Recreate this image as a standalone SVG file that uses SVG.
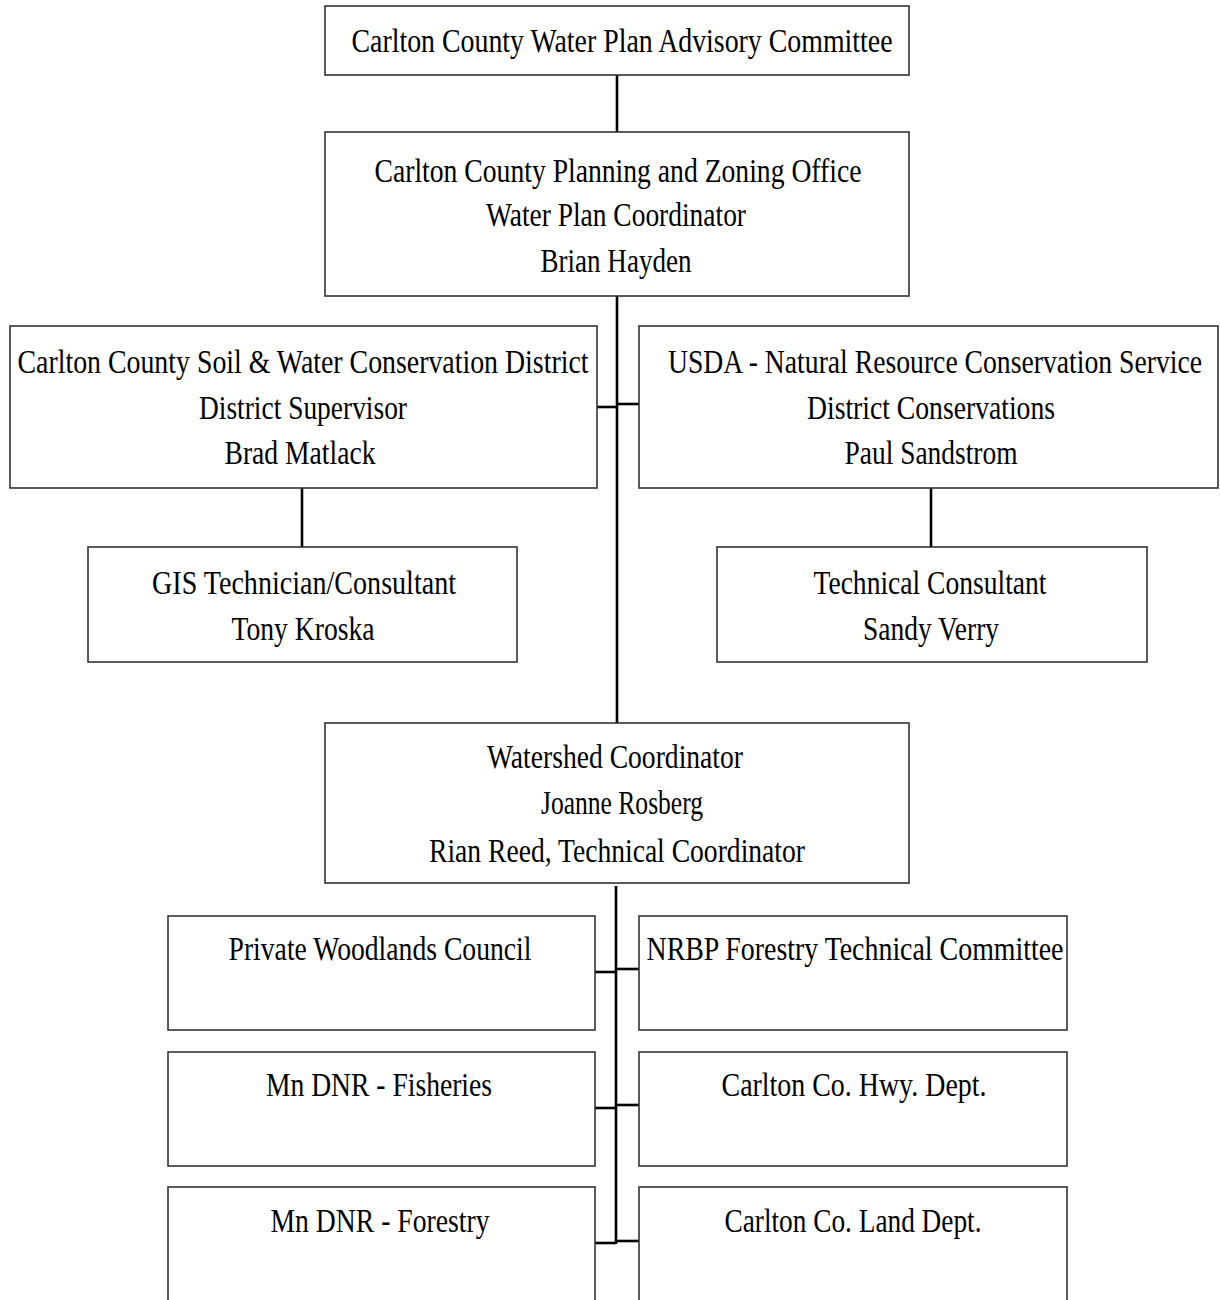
<svg xmlns="http://www.w3.org/2000/svg" width="1220" height="1300" viewBox="0 0 1220 1300">
<style>
rect.box{fill:#fff;stroke:#333;stroke-width:1.6}
.c{stroke:#000;stroke-width:2.6;fill:none}
text{font-family:"Liberation Serif","Times New Roman",serif;font-size:33px;fill:#000;text-anchor:middle}
</style>
<rect width="1220" height="1300" fill="#fff"/>
<g id="connectors">
<line class="c" x1="617" y1="75" x2="617" y2="132"/>
<line class="c" x1="617" y1="296" x2="617" y2="723"/>
<line class="c" x1="597" y1="407" x2="617" y2="407"/>
<line class="c" x1="617" y1="404" x2="639" y2="404"/>
<line class="c" x1="302" y1="488" x2="302" y2="547"/>
<line class="c" x1="931" y1="488" x2="931" y2="547"/>
<line class="c" x1="616" y1="886" x2="616" y2="1244"/>
<line class="c" x1="595" y1="972" x2="616" y2="972"/>
<line class="c" x1="616" y1="969" x2="639" y2="969"/>
<line class="c" x1="595" y1="1108" x2="616" y2="1108"/>
<line class="c" x1="616" y1="1105" x2="639" y2="1105"/>
<line class="c" x1="595" y1="1243" x2="616" y2="1243"/>
<line class="c" x1="616" y1="1241" x2="639" y2="1241"/>
</g>
<g id="advisory">
<rect class="box" x="325" y="6" width="584" height="69"/>
<text x="622" y="52" textLength="541" lengthAdjust="spacingAndGlyphs">Carlton County Water Plan Advisory Committee</text>
</g>
<g id="planning">
<rect class="box" x="325" y="132" width="584" height="164"/>
<text x="618" y="182" textLength="487" lengthAdjust="spacingAndGlyphs">Carlton County Planning and Zoning Office</text>
<text x="616" y="226" textLength="260" lengthAdjust="spacingAndGlyphs">Water Plan Coordinator</text>
<text x="616" y="272" textLength="151" lengthAdjust="spacingAndGlyphs">Brian Hayden</text>
</g>
<g id="swcd">
<rect class="box" x="10" y="326" width="587" height="162"/>
<text x="303" y="373" textLength="571" lengthAdjust="spacingAndGlyphs">Carlton County Soil &amp; Water Conservation District</text>
<text x="303" y="419" textLength="208" lengthAdjust="spacingAndGlyphs">District Supervisor</text>
<text x="300" y="464" textLength="151" lengthAdjust="spacingAndGlyphs">Brad Matlack</text>
</g>
<g id="usda">
<rect class="box" x="639" y="326" width="579" height="162"/>
<text x="935" y="373" textLength="534" lengthAdjust="spacingAndGlyphs">USDA - Natural Resource Conservation Service</text>
<text x="931" y="419" textLength="248" lengthAdjust="spacingAndGlyphs">District Conservations</text>
<text x="931" y="464" textLength="173" lengthAdjust="spacingAndGlyphs">Paul Sandstrom</text>
</g>
<g id="gis">
<rect class="box" x="88" y="547" width="429" height="115"/>
<text x="304" y="594" textLength="304" lengthAdjust="spacingAndGlyphs">GIS Technician/Consultant</text>
<text x="303" y="640" textLength="143" lengthAdjust="spacingAndGlyphs">Tony Kroska</text>
</g>
<g id="techconsultant">
<rect class="box" x="717" y="547" width="430" height="115"/>
<text x="930" y="594" textLength="233" lengthAdjust="spacingAndGlyphs">Technical Consultant</text>
<text x="931" y="640" textLength="136" lengthAdjust="spacingAndGlyphs">Sandy Verry</text>
</g>
<g id="watershed">
<rect class="box" x="325" y="723" width="584" height="160"/>
<text x="615" y="768" textLength="256" lengthAdjust="spacingAndGlyphs">Watershed Coordinator</text>
<text x="622" y="814" textLength="162" lengthAdjust="spacingAndGlyphs">Joanne Rosberg</text>
<text x="617" y="862" textLength="376" lengthAdjust="spacingAndGlyphs">Rian Reed, Technical Coordinator</text>
</g>
<g id="woodlands">
<rect class="box" x="168" y="916" width="427" height="114"/>
<text x="380" y="960" textLength="303" lengthAdjust="spacingAndGlyphs">Private Woodlands Council</text>
</g>
<g id="nrbp">
<rect class="box" x="639" y="916" width="428" height="114"/>
<text x="855" y="960" textLength="417" lengthAdjust="spacingAndGlyphs">NRBP Forestry Technical Committee</text>
</g>
<g id="fisheries">
<rect class="box" x="168" y="1052" width="427" height="114"/>
<text x="379" y="1096" textLength="226" lengthAdjust="spacingAndGlyphs">Mn DNR - Fisheries</text>
</g>
<g id="hwy">
<rect class="box" x="639" y="1052" width="428" height="114"/>
<text x="854" y="1096" textLength="265" lengthAdjust="spacingAndGlyphs">Carlton Co. Hwy. Dept.</text>
</g>
<g id="forestry">
<rect class="box" x="168" y="1187" width="427" height="130"/>
<text x="380" y="1232" textLength="219" lengthAdjust="spacingAndGlyphs">Mn DNR - Forestry</text>
</g>
<g id="land">
<rect class="box" x="639" y="1187" width="428" height="130"/>
<text x="853" y="1232" textLength="257" lengthAdjust="spacingAndGlyphs">Carlton Co. Land Dept.</text>
</g>
</svg>
